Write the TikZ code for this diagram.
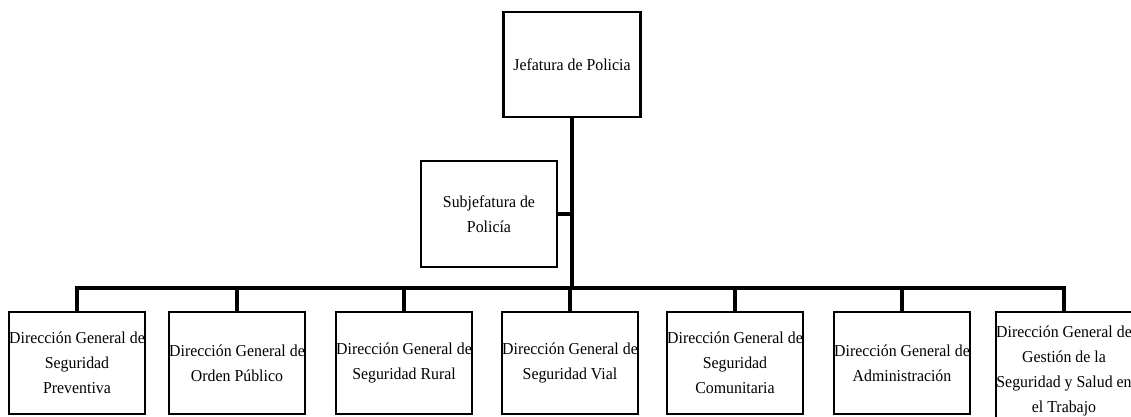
\documentclass[tikz,border=0pt]{standalone}
\usepackage{fontspec}
\setmainfont{Liberation Serif}[FakeStretch=0.95]
\usetikzlibrary{positioning}

\begin{document}
\begin{tikzpicture}[x=0.02cm, y=-0.02cm,
  box/.style={draw, line width=1.6pt, minimum width=2.74cm, minimum height=2.1cm,
              inner sep=0pt, align=center, font=\fontsize{9.5}{14.2}\selectfont},
  dir/.style={box, minimum width=2.72cm, minimum height=2.04cm},
  link/.style={line width=1.8pt},
]
\useasboundingbox (0,0) rectangle (1131,416);

% top of the chart
\node[box] (jef) at (572,64.5) {Jefatura de Policia};
\node[box, minimum width=2.72cm, minimum height=2.12cm] (sub) at (489,214) {Subjefatura de\\ Policía};

% directions
\node[dir] (d1) at (77,363)   {Dirección General de\\ Seguridad\\ Preventiva};
\node[dir] (d2) at (237,363)  {Dirección General de\\ Orden Público};
\node[dir] (d3) at (404,363)  {Dirección General de\\ Seguridad Rural};
\node[dir] (d4) at (570,363)  {Dirección General de\\ Seguridad Vial};
\node[dir] (d5) at (735,363)  {Dirección General de\\ Seguridad\\ Comunitaria};
\node[dir] (d6) at (902,363)  {Dirección General de\\ Administración};
\node[dir, minimum height=2.36cm] (d7) at (1064,371) {Dirección General de\\ Gestión de la\\ Seguridad y Salud en\\ el Trabajo};

% connectors
\coordinate (bus) at (572,288);
\draw[link] (jef.south) -- (bus);
\draw[link] (sub.east) -- (sub.east -| jef.south);
\draw[link] (d1.north) |- (bus) -| (d7.north);
\foreach \i in {2,...,6}
  \draw[link] (d\i.north) -- (d\i.north |- bus);
\end{tikzpicture}
\end{document}
